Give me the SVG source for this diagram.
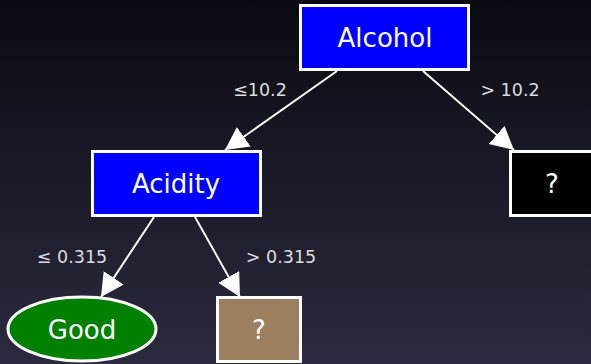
<svg xmlns="http://www.w3.org/2000/svg" width="591" height="364" viewBox="0 0 591 364">
<defs>
<linearGradient id="bg" x1="0" y1="0" x2="0" y2="1">
<stop offset="0" stop-color="#0a0a12"/>
<stop offset="1" stop-color="#2c2a3e"/>
</linearGradient>
<marker id="arr" markerUnits="userSpaceOnUse" markerWidth="26" markerHeight="26" refX="23" refY="12" orient="auto">
<path d="M0,0 L23,12 L0,24 z" fill="#fff"/>
</marker>
<style>
.node{stroke:#fff;stroke-width:3}
.t{font-family:"DejaVu Sans",sans-serif;fill:#fff;text-anchor:middle;font-size:26px}
.lbl{font-family:"DejaVu Sans",sans-serif;fill:#ddd;text-anchor:middle;font-size:17.5px}
.edge{stroke:#fff;stroke-width:2;fill:none;marker-end:url(#arr)}
</style>
</defs>
<rect width="591" height="364" fill="url(#bg)"/>
<g id="connectors">
<line class="edge" x1="337" y1="71" x2="225" y2="150"/>
<line class="edge" x1="423" y1="71" x2="514" y2="150"/>
<line class="edge" x1="154" y1="217" x2="101" y2="297"/>
<line class="edge" x1="195" y1="217" x2="240" y2="297"/>
<text class="lbl" x="260" y="96">≤10.2</text>
<text class="lbl" x="510" y="96">&gt; 10.2</text>
<text class="lbl" x="72" y="263">≤ 0.315</text>
<text class="lbl" x="281" y="263">&gt; 0.315</text>
</g>
<g id="alcohol">
<rect class="node" x="300.5" y="5.5" width="168" height="64" fill="#0000ff"/>
<text class="t" x="385" y="47">Alcohol</text>
</g>
<g id="acidity">
<rect class="node" x="92.5" y="151.5" width="168" height="64" fill="#0000ff"/>
<text class="t" x="176" y="193">Acidity</text>
</g>
<g id="q-right">
<rect class="node" x="510.5" y="151.5" width="168" height="64" fill="#000"/>
<text class="t" x="552" y="193">?</text>
</g>
<g id="good">
<ellipse class="node" cx="82" cy="329" rx="74" ry="32" fill="#008000"/>
<text class="t" x="82" y="339">Good</text>
</g>
<g id="q-brown">
<rect class="node" x="217.5" y="297.5" width="83" height="64" fill="#9c7f5f"/>
<text class="t" x="259" y="339">?</text>
</g>
</svg>
